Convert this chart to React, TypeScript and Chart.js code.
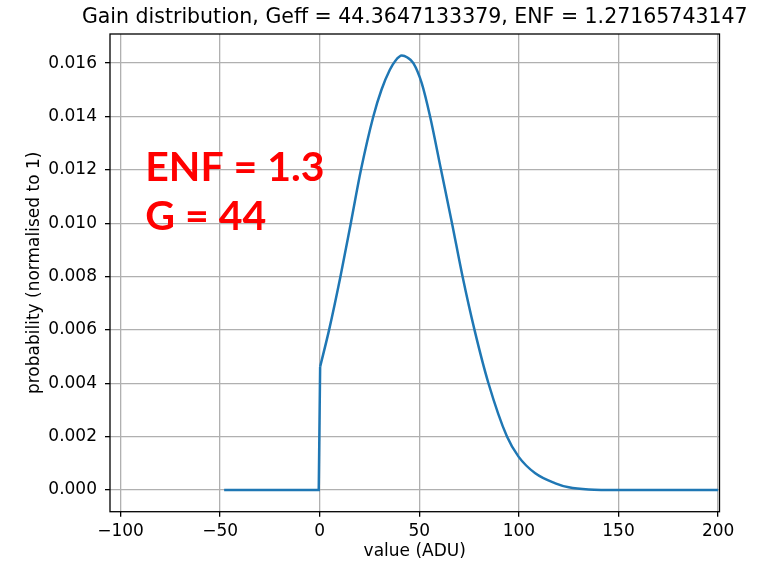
import React, { useEffect, useRef } from 'react';
import { Chart, registerables } from 'chart.js';

Chart.register(...registerables);

// flat part and the step at zero
const stepX = [-48, -0.5, 0.2];
const stepY = [0, 0, 0.00462];
// smooth part of the distribution
const curveX = [0.2, 4.7, 10.4, 15.6, 20.7, 26.9, 31.0, 35.2, 38.0, 41.2, 44.0, 47.0, 51.2, 55.4, 60.9, 66.4, 71.7, 77.7, 84.7, 94.0, 99.8, 108.2, 118.3, 125, 135, 150, 200];
const curveY = [0.00462, 0.006, 0.008, 0.010, 0.012, 0.014, 0.015, 0.01575, 0.01609, 0.01628, 0.01621, 0.016, 0.01525, 0.014, 0.012, 0.010, 0.008, 0.006, 0.004, 0.002, 0.00125, 0.000625, 0.00025, 0.0001, 0.00002, 0, 0];
const xTicks = [-100, -50, 0, 50, 100, 150, 200];
const yTicks = [0, 0.002, 0.004, 0.006, 0.008, 0.01, 0.012, 0.014, 0.016];
const titleText = 'Gain distribution, Geff = 44.3647133379, ENF = 1.27165743147';
const xLabel = 'value (ADU)';
const yLabel = 'probability (normalised to 1)';
const noteLines = ['ENF = 1.3', 'G = 44'];
const noteX = [-87.6, -87.6];
const noteY = [0.01158, 0.00973];

const overlay = {
  id: 'overlay',
  afterDraw(chart: any) {
    const { ctx, chartArea: a, scales } = chart;
    ctx.save();
    ctx.strokeStyle = '#000';
    ctx.lineWidth = 1.3;
    ctx.strokeRect(a.left, a.top, a.right - a.left, a.bottom - a.top);
    ctx.fillStyle = '#000';
    ctx.font = '20.5px "DejaVu Sans"';
    ctx.textAlign = 'center';
    ctx.textBaseline = 'alphabetic';
    ctx.fillText(titleText, (a.left + a.right) / 2, 23.3);
    ctx.fillStyle = '#ff0000';
    ctx.font = 'bold 41px Lato';
    ctx.textAlign = 'left';
    noteLines.forEach((t, i) => {
      ctx.fillText(t, scales.x.getPixelForValue(noteX[i]), scales.y.getPixelForValue(noteY[i]));
    });
    ctx.restore();
  },
};

export default function App() {
  const ref = useRef<HTMLCanvasElement>(null);
  useEffect(() => {
    Chart.defaults.font.family = '"DejaVu Sans"';
    Chart.defaults.font.size = 17;
    Chart.defaults.color = '#000';
    const lineStyle = { borderColor: '#1f77b4', borderWidth: 2.5, pointRadius: 0, fill: false };
    const chart = new Chart(ref.current!, {
      type: 'line',
      data: {
        datasets: [
          { ...lineStyle, data: stepX.map((x, i) => ({ x, y: stepY[i] })), tension: 0 },
          { ...lineStyle, data: curveX.map((x, i) => ({ x, y: curveY[i] })), cubicInterpolationMode: 'monotone' },
        ],
      },
      options: {
        responsive: false,
        animation: false,
        events: [],
        layout: { padding: { top: 34, right: 59.5, left: 0, bottom: 0 } },
        plugins: { legend: { display: false }, tooltip: { enabled: false }, title: { display: false } },
        scales: {
          x: {
            type: 'linear',
            min: -105.3,
            max: 200.7,
            afterBuildTicks: (s: any) => { s.ticks = xTicks.map((v) => ({ value: v })); },
            afterFit: (s: any) => { s.height = 55.3; },
            ticks: {
              callback: (v: any) => (v < 0 ? '\u2212' + Math.abs(v) : String(v)),
              padding: 5,
              maxRotation: 0,
              autoSkip: false,
            },
            grid: { color: '#b0b0b0', lineWidth: 1.3, tickColor: '#000', tickLength: 5, tickWidth: 1.3 },
            border: { display: false },
            title: { display: true, text: xLabel, padding: { top: 0, bottom: 4.8 } },
          },
          y: {
            type: 'linear',
            min: -0.000814,
            max: 0.01709,
            afterBuildTicks: (s: any) => { s.ticks = yTicks.map((v) => ({ value: v })); },
            afterFit: (s: any) => { s.width = 110; },
            ticks: { callback: (v: any) => Number(v).toFixed(3), padding: 8, autoSkip: false },
            grid: { color: '#b0b0b0', lineWidth: 1.3, tickColor: '#000', tickLength: 5, tickWidth: 1.3 },
            border: { display: false },
            title: { display: true, text: yLabel, padding: { top: 24.8, bottom: 0 } },
          },
        },
      },
      plugins: [overlay],
    } as any);
    return () => chart.destroy();
  }, []);
  return (
    <div style={{ position: 'fixed', left: 0, top: 0, width: 779, height: 567, background: '#fff' }}>
      <canvas ref={ref} width={779} height={567} />
    </div>
  );
}
